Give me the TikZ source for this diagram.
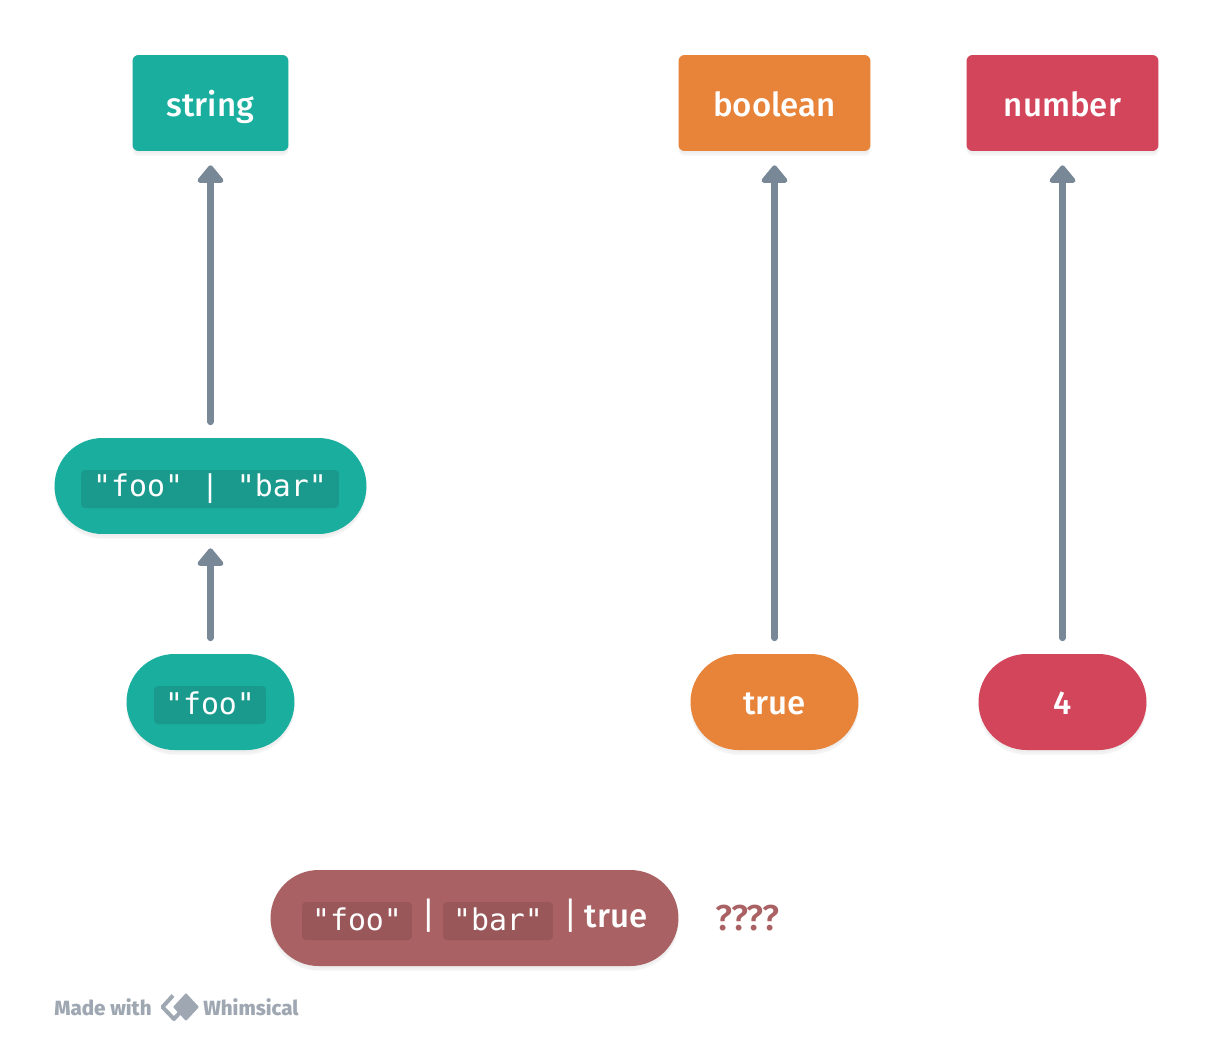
\documentclass[tikz,border=0pt]{standalone}
\usepackage{fontspec}
\setmainfont{Fira Sans Medium}
\setmonofont{DejaVu Sans Mono}
\usetikzlibrary{arrows.meta,shadows}

\definecolor{tealbox}{HTML}{1AAE9F}
\definecolor{tealchip}{HTML}{1A9A8C}
\definecolor{orangebox}{HTML}{E8833A}
\definecolor{redbox}{HTML}{D3455B}
\definecolor{rosebox}{HTML}{A96163}
\definecolor{rosechip}{HTML}{995759}
\definecolor{arrowgray}{HTML}{788896}
\definecolor{logogray}{HTML}{9FA8B2}

\tikzset{
  softshadow/.style={
    general shadow={shadow yshift=-.04cm,fill=black,opacity=.02,scale=1.02},
    general shadow={shadow yshift=-.08cm,fill=black,opacity=.025,scale=1.01},
    general shadow={shadow yshift=-.10cm,fill=black,opacity=.025}},
  typebox/.style={softshadow,rounded corners=.12cm,text=white,inner sep=0pt,
    minimum height=1.92cm,text height=.64cm,text depth=.08cm,
    font=\fontsize{18.8}{20}\selectfont},
  valuepill/.style={typebox,rounded corners=.96cm,text height=.6cm,text depth=.12cm},
  codechip/.style={rounded corners=.08cm,text=white,inner sep=0pt,minimum height=.76cm,
    font=\ttfamily\fontsize{17}{20}\selectfont},
  subtype/.style={line width=.14cm,line cap=round,draw=arrowgray,
    -{Triangle[width=.6cm,length=.38cm,round]},shorten >=.28cm,shorten <=.32cm},
  pipetext/.style={text=white,font=\ttfamily\fontsize{19}{20}\selectfont},
  credit/.style={text=logogray,font=\fontsize{11.7}{13}\selectfont\bfseries,inner sep=0pt}
}

\begin{document}
\begin{tikzpicture}[x=.02cm,y=-.02cm]
  \useasboundingbox (0,0) rectangle (1213,1048);

% type boxes on top
  \node[typebox,fill=tealbox,minimum width=3.12cm]   (string)  at (210.5,103)  {string};
  \node[typebox,fill=orangebox,minimum width=3.84cm] (boolean) at (774.5,103)  {boolean};
  \node[typebox,fill=redbox,minimum width=3.84cm]    (number)  at (1062.5,103) {number};

% values
  \node[valuepill,fill=tealbox,minimum width=6.24cm]   (foobar) at (210.5,486) {};
  \node[valuepill,fill=tealbox,minimum width=3.36cm]   (foo)    at (210.5,702) {};
  \node[valuepill,fill=orangebox,minimum width=3.36cm] (true)   at (774.5,702) {true};
  \node[valuepill,fill=redbox,minimum width=3.36cm]    (four)   at (1062.5,702) {4};
  \node[valuepill,fill=rosebox,minimum width=8.16cm]   (mixed)  at (474.5,918) {};

% code chips
  \node[codechip,fill=tealchip,minimum width=5.16cm] (foobarcode) at (210,489) {\raisebox{.06cm}{"foo" | "bar"}};
  \node[codechip,fill=tealchip,minimum width=2.24cm] (foocode)    at (210,705) {\raisebox{.06cm}{"foo"}};
  \node[codechip,fill=rosechip,minimum width=2.2cm]  (mixedfoo)   at (357,921) {\raisebox{.06cm}{"foo"}};
  \node[codechip,fill=rosechip,minimum width=2.2cm]  (mixedbar)   at (498,921) {\raisebox{.06cm}{"bar"}};

% rest of the mixed pill
  \node[pipetext] (pipeone) at (428.5,916) {|};
  \node[pipetext] (pipetwo) at (570.5,916) {|};
  \node[text=white,font=\fontsize{18.8}{20}\selectfont] (mixedtrue) at (616,917) {true};
  \node[text=rosebox,font=\fontsize{20.5}{22}\selectfont] (unknown) at (747.5,918) {????};

% arrows
  \draw[subtype] (foobar) -- (string);
  \draw[subtype] (foo) -- (foobar);
  \draw[subtype] (true) -- (boolean);
  \draw[subtype] (four) -- (number);

% footer
  \node[credit,anchor=west] (madewith) at (54,1007) {Made with};
  \node[credit,anchor=west] (whimsical) at (203,1007) {Whimsical};
  \draw[logogray,line width=.08cm,line join=round] (173,995.5) -- (162.5,1007) -- (174,1019) -- (184,1008);
  \fill[logogray,rounded corners=.02cm] (186,993) -- (199,1007) -- (186,1021) -- (173,1007) -- cycle;

\end{tikzpicture}
\end{document}
